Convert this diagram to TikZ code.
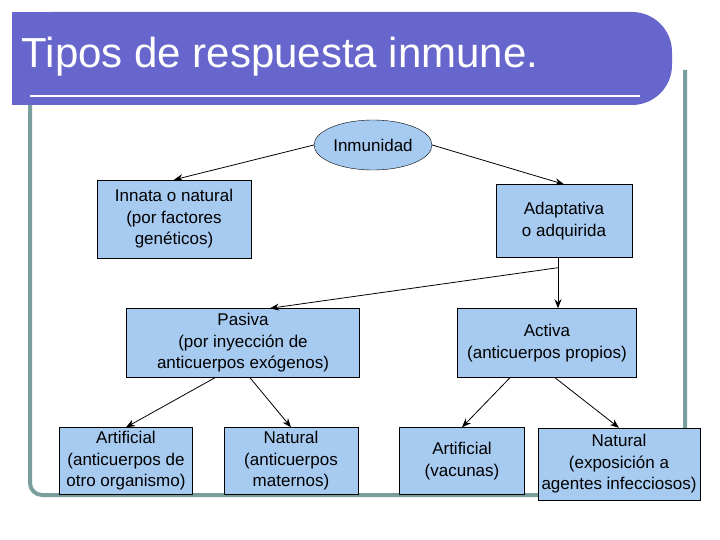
\documentclass[tikz,border=0pt]{standalone}
\usepackage{fontspec}
\setmainfont{Liberation Sans}
\usetikzlibrary{arrows.meta,shapes.geometric}
\definecolor{banner}{RGB}{102,102,204}
\definecolor{frame}{RGB}{122,158,158}
\definecolor{boxfill}{RGB}{166,202,240}
\begin{document}
\begin{tikzpicture}[x=1pt,y=-1pt,->,>={Stealth[length=9pt,width=7pt]},thick]
    \tikzstyle{box}=[draw=black,thin,fill=boxfill,align=center,inner sep=0pt,font=\fontsize{17}{21.5}\selectfont]
    \tikzstyle{oval}=[box,ellipse,minimum width=118pt,minimum height=50pt]
    \useasboundingbox (0,0) rectangle (720,540);

    % Frame and title banner
    \draw[-,frame,line width=4pt,rounded corners=12pt] (30,100) -- (30,495) -- (685,495) -- (685,70);
    \fill[banner,rounded corners=40pt] (12,12) rectangle (672,105);
    \fill[banner] (12,12) rectangle (60,105);
    \draw[-,white,line width=2pt] (30,96) -- (640,96);
    \node[anchor=west,white,font=\fontsize{42}{46}\selectfont] (title) at (18,57) {Tipos de respuesta inmune.};

    % Tree nodes
    \node[oval] (root) at (373,145) {Inmunidad};
    \node[box,minimum width=154pt,minimum height=78pt] (innate) at (174,219) {Innata o natural\\(por factores\\genéticos)};
    \node[box,minimum width=136pt,minimum height=73pt] (adapt) at (564,221) {Adaptativa\\o adquirida};
    \node[box,minimum width=233pt,minimum height=69pt] (passive) at (243,343) {Pasiva\\(por inyección de\\anticuerpos exógenos)};
    \node[box,minimum width=179pt,minimum height=69pt] (active) at (547,343) {Activa\\(anticuerpos propios)};
    \node[box,minimum width=133pt,minimum height=67pt] (art-1) at (126,461) {Artificial\\(anticuerpos de\\otro organismo)};
    \node[box,minimum width=134pt,minimum height=67pt] (nat-1) at (291,461) {Natural\\(anticuerpos\\maternos)};
    \node[box,minimum width=125pt,minimum height=67pt] (art-2) at (462,461) {Artificial\\(vacunas)};
    \node[box,minimum width=162pt,minimum height=72pt] (nat-2) at (619,464) {Natural\\(exposición a\\agentes infecciosos)};

    % Connectors
    \draw (root.west) -- (innate.north);
    \draw (root.east) -- (adapt.north);
    \draw ([xshift=-6pt,yshift=-10pt]adapt.south) -- ([xshift=27pt]passive.north);
    \draw ([xshift=-6pt]adapt.south) -- ([xshift=11pt]active.north);
    \draw ([xshift=-28pt]passive.south) -- (art-1.north);
    \draw ([xshift=7pt]passive.south) -- (nat-1.north);
    \draw ([xshift=-37pt]active.south) -- (art-2.north);
    \draw ([xshift=8pt]active.south) -- (nat-2.north);
\end{tikzpicture}
\end{document}
